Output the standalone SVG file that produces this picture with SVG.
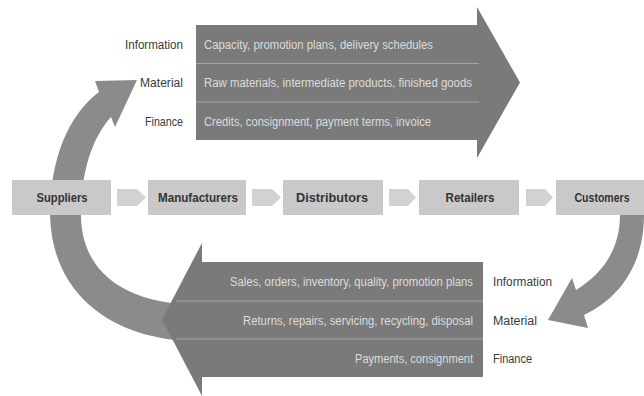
<svg xmlns="http://www.w3.org/2000/svg" width="644" height="396" viewBox="0 0 644 396">
<style>
.box{fill:#c9c9c9;}
.bx{font-family:"Liberation Sans","DejaVu Sans",sans-serif;font-weight:bold;font-size:13px;fill:#333;text-anchor:middle;}
.lab{font-family:"Liberation Sans","DejaVu Sans",sans-serif;font-size:12px;fill:#3a3a3a;}
.in{font-family:"Liberation Sans","DejaVu Sans",sans-serif;font-size:12px;fill:#dcdcdc;}
.big{fill:#7a7a7a;}
.curve{fill:#8b8b8b;}
.small{fill:#d2d2d2;}
.div{stroke:#a4a4a4;stroke-width:1.2;}
</style>
<rect width="644" height="396" fill="#ffffff"/>
<g id="connectors">
  <path id="return-arc" class="curve" d="M200 341 C120 342 52 300 50 215 C50 160 68 115 99 92 L95 81 L137 80 L115 127 L111 117 C92 138 81 172 81 215 C81 262 112 304 200 305 Z"/>
  <path id="customer-arc" class="curve" d="M620 215 L644 215 C644 262 622 297 584 315 L588 328 L548 320 L572 278 L576 290 C602 274 620 250 620 215 Z"/>
  <path class="small" d="M117 189 L137 189 L146 197.5 L137 206 L117 206 Z"/>
  <path class="small" d="M252 189 L272 189 L281 197.5 L272 206 L252 206 Z"/>
  <path class="small" d="M389 189 L408 189 L416 197.5 L408 206 L389 206 Z"/>
  <path class="small" d="M526 189 L545 189 L553 197.5 L545 206 L526 206 Z"/>
</g>
<g id="downstream-flow">
  <path class="big" d="M196 25 L477 25 L477 7 L520 82.5 L477 158 L477 140 L196 140 Z"/>
  <line class="div" x1="196" y1="63.5" x2="479" y2="63.5"/>
  <line class="div" x1="196" y1="102" x2="479" y2="102"/>
  <text class="in" x="204" y="48.5" textLength="229" lengthAdjust="spacingAndGlyphs">Capacity, promotion plans, delivery schedules</text>
  <text class="in" x="204" y="87" textLength="268" lengthAdjust="spacingAndGlyphs">Raw materials, intermediate products, finished goods</text>
  <text class="in" x="204" y="125.5" textLength="227" lengthAdjust="spacingAndGlyphs">Credits, consignment, payment terms, invoice</text>
  <text class="lab" x="183" y="48.5" text-anchor="end" textLength="58" lengthAdjust="spacingAndGlyphs">Information</text>
  <text class="lab" x="183" y="87" text-anchor="end" textLength="43" lengthAdjust="spacingAndGlyphs">Material</text>
  <text class="lab" x="183" y="125.5" text-anchor="end" textLength="38" lengthAdjust="spacingAndGlyphs">Finance</text>
</g>
<g id="upstream-flow">
  <path class="big" d="M483 262 L202 262 L202 243 L162 319.5 L202 396 L202 377 L483 377 Z"/>
  <line class="div" x1="176" y1="301" x2="483" y2="301"/>
  <line class="div" x1="176" y1="339" x2="483" y2="339"/>
  <text class="in" x="473" y="286" text-anchor="end" textLength="243" lengthAdjust="spacingAndGlyphs">Sales, orders, inventory, quality, promotion plans</text>
  <text class="in" x="473" y="324.5" text-anchor="end" textLength="230" lengthAdjust="spacingAndGlyphs">Returns, repairs, servicing, recycling, disposal</text>
  <text class="in" x="473" y="362.5" text-anchor="end" textLength="118" lengthAdjust="spacingAndGlyphs">Payments, consignment</text>
  <text class="lab" x="493" y="286" textLength="59" lengthAdjust="spacingAndGlyphs">Information</text>
  <text class="lab" x="493" y="324.5" textLength="44" lengthAdjust="spacingAndGlyphs">Material</text>
  <text class="lab" x="493" y="362.5" textLength="39" lengthAdjust="spacingAndGlyphs">Finance</text>
</g>
<g id="suppliers">
  <rect class="box" x="12" y="180" width="99" height="35"/>
  <text class="bx" x="62" y="202" textLength="51" lengthAdjust="spacingAndGlyphs">Suppliers</text>
</g>
<g id="manufacturers">
  <rect class="box" x="148" y="180" width="98" height="35"/>
  <text class="bx" x="198" y="202" textLength="80" lengthAdjust="spacingAndGlyphs">Manufacturers</text>
</g>
<g id="distributors">
  <rect class="box" x="283" y="180" width="100" height="35"/>
  <text class="bx" x="332" y="202" textLength="72" lengthAdjust="spacingAndGlyphs">Distributors</text>
</g>
<g id="retailers">
  <rect class="box" x="419" y="180" width="100" height="35"/>
  <text class="bx" x="470" y="202" textLength="49" lengthAdjust="spacingAndGlyphs">Retailers</text>
</g>
<g id="customers">
  <rect class="box" x="556" y="180" width="88" height="35"/>
  <text class="bx" x="602" y="202" textLength="55" lengthAdjust="spacingAndGlyphs">Customers</text>
</g>
</svg>
